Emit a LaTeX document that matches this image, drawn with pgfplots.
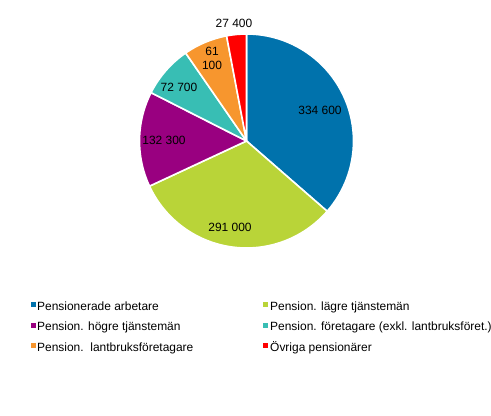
\documentclass[border=0pt]{standalone}
\usepackage{pgfplots}
\pgfplotsset{compat=1.18}
\usepackage{pgfplotstable}
\usepackage{fontspec}
\setmainfont{Liberation Sans}
\definecolor{cA}{RGB}{0,114,172}
\definecolor{cB}{RGB}{185,212,56}
\definecolor{cC}{RGB}{153,0,128}
\definecolor{cD}{RGB}{56,190,180}
\definecolor{cE}{RGB}{247,150,46}
\definecolor{cF}{RGB}{255,0,0}

\pgfplotstableread{
idx value
0 334600
1 291000
2 132300
3 72700
4 61100
5 27400
}\piedata

\begin{document}
\begin{tikzpicture}
\useasboundingbox (0,0) rectangle (491bp,416bp);
\begin{axis}[
  at={(0,0)}, anchor=south west,
  width=491bp, height=416bp, scale only axis,
  xmin=0, xmax=491, ymin=0, ymax=416,
  hide axis, clip=false,
]
\pgfplotsextra{
  % total
  \gdef\pietotal{0}
  \foreach \i in {0,...,5}{
    \pgfplotstablegetelem{\i}{value}\of\piedata
    \xdef\pietotal{\fpeval{\pietotal+\pgfplotsretval}}
  }
  \gdef\piecur{90}
  \foreach \i/\c in {0/cA,1/cB,2/cC,3/cD,4/cE,5/cF}{
    \pgfplotstablegetelem{\i}{value}\of\piedata
    \xdef\pienext{\fpeval{\piecur-\pgfplotsretval/\pietotal*360}}
    \fill[\c, draw=white, line width=1.6bp, line join=round]
      (axis cs:246.5,275) -- ++(\piecur:107bp)
      arc[start angle=\piecur, end angle=\pienext, radius=107bp] -- cycle;
    \xdef\piecur{\pienext}
  }
}
\begin{scope}[every node/.style={font=\fontsize{12}{14}\selectfont, inner sep=0pt}]
\node at (axis cs:320,306) {334 600};
\node at (axis cs:230,189) {291 000};
\node at (axis cs:164,276) {132 300};
\node at (axis cs:179,328.5) {72 700};
\node[align=center] at (axis cs:212,358) {61\\100};
\node at (axis cs:234,392.5) {27 400};

\fill[cA] (axis cs:31,108.5) rectangle (axis cs:36,113.5);
\fill[cB] (axis cs:262.5,108.5) rectangle (axis cs:267.5,113.5);
\fill[cC] (axis cs:31,88) rectangle (axis cs:36,93);
\fill[cD] (axis cs:262.5,88) rectangle (axis cs:267.5,93);
\fill[cE] (axis cs:31,67.5) rectangle (axis cs:36,72.5);
\fill[cF] (axis cs:262.5,67.5) rectangle (axis cs:267.5,72.5);

\node[anchor=base west] at (axis cs:37,105.5) {Pensionerade arbetare};
\node[anchor=base west] at (axis cs:270,105.5) {Pension. lägre tjänstemän};
\node[anchor=base west] at (axis cs:37,85) {Pension. högre tjänstemän};
\node[anchor=base west] at (axis cs:270,85) {Pension. företagare (exkl. lantbruksföret.)};
\node[anchor=base west] at (axis cs:37,64.5) {Pension.\ \ lantbruksföretagare};
\node[anchor=base west] at (axis cs:270,64.5) {Övriga pensionärer};
\end{scope}
\end{axis}
\end{tikzpicture}
\end{document}
